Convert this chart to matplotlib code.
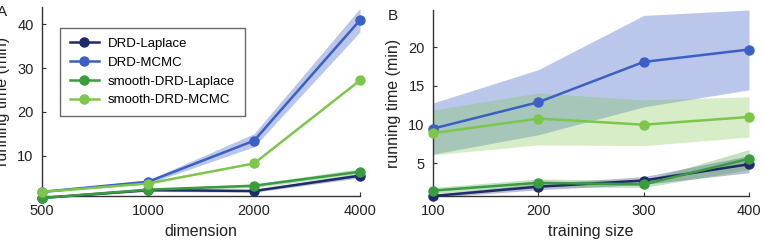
import matplotlib
matplotlib.use("Agg")
import matplotlib.pyplot as plt
import numpy as np

plt.rcParams['font.family'] = ['Liberation Sans', 'DejaVu Sans']

# Panel A data
dims = [500, 1000, 2000, 4000]
a_drd_lap = [0.3, 2.1, 1.9, 5.4]
a_drd_lap_lo = [0.2, 1.8, 1.6, 4.9]
a_drd_lap_hi = [0.4, 2.4, 2.2, 5.9]
a_drd_mcmc = [1.7, 4.0, 13.4, 41.0]
a_drd_mcmc_lo = [1.5, 3.6, 12.0, 38.3]
a_drd_mcmc_hi = [1.9, 4.4, 15.0, 43.7]
a_sm_lap = [0.3, 2.2, 3.1, 6.3]
a_sm_lap_lo = [0.2, 1.9, 2.7, 5.6]
a_sm_lap_hi = [0.4, 2.5, 3.5, 7.0]
a_sm_mcmc = [1.7, 3.6, 8.2, 27.2]

# Panel B data
sizes = [100, 200, 300, 400]
b_drd_lap = [0.8, 2.0, 2.8, 4.9]
b_drd_lap_lo = [0.6, 1.6, 2.3, 3.8]
b_drd_lap_hi = [1.0, 2.4, 3.3, 6.0]
b_drd_mcmc = [9.5, 12.9, 18.1, 19.7]
b_drd_mcmc_lo = [6.2, 8.7, 12.3, 14.5]
b_drd_mcmc_hi = [12.8, 17.1, 24.1, 24.8]
b_sm_lap = [1.5, 2.5, 2.3, 5.6]
b_sm_lap_lo = [1.1, 2.0, 1.9, 4.2]
b_sm_lap_hi = [1.9, 3.0, 2.8, 6.8]
b_sm_mcmc = [8.9, 10.8, 10.0, 11.0]
b_sm_mcmc_lo = [6.1, 7.4, 7.3, 8.4]
b_sm_mcmc_hi = [11.9, 14.1, 13.2, 13.6]

labels = ['DRD-Laplace', 'DRD-MCMC', 'smooth-DRD-Laplace', 'smooth-DRD-MCMC']
colors = ['#1d2a6b', '#3b5fc6', '#3a9c3f', '#7cc64b']

fig = plt.figure(figsize=(7.64, 2.44), dpi=100)
axA = fig.add_axes([0.0550, 0.1967, 0.4162, 0.7746])
axB = fig.add_axes([0.5668, 0.1967, 0.4136, 0.7623])

def style(ax):
    for s in ['top', 'right']:
        ax.spines[s].set_visible(False)
    for s in ['left', 'bottom']:
        ax.spines[s].set_color('#333333')
        ax.spines[s].set_linewidth(1.0)
    ax.tick_params(direction='in', length=3, color='#333333', labelsize=10.5,
                   labelcolor='#222222', pad=6)

def draw(ax, x, series, bands):
    for (lo, hi, c, a) in bands:
        ax.fill_between(x, lo, hi, color=c, alpha=a, linewidth=0, zorder=1)
    for y, c, lab in series:
        ax.plot(x, y, '-o', color=c, lw=1.8, ms=6.5, label=lab, clip_on=False, zorder=3)

draw(axA, dims,
     [(a_drd_lap, colors[0], labels[0]), (a_drd_mcmc, colors[1], labels[1]),
      (a_sm_lap, colors[2], labels[2]), (a_sm_mcmc, colors[3], labels[3])],
     [(a_drd_lap_lo, a_drd_lap_hi, colors[0], 0.3),
      (a_drd_mcmc_lo, a_drd_mcmc_hi, colors[1], 0.35),
      (a_sm_lap_lo, a_sm_lap_hi, colors[2], 0.3)])
axA.set_xscale('log')
axA.set_xlim(500, 4000)
axA.set_xticks(dims)
axA.set_xticklabels([str(d) for d in dims])
axA.minorticks_off()
axA.set_ylim(0.75, 44)
axA.set_yticks([10, 20, 30, 40])
axA.set_xlabel('dimension', fontsize=11.5, color='#222222', labelpad=4)
axA.set_ylabel('running time (min)', fontsize=11.5, color='#222222', labelpad=5)
style(axA)
leg = axA.legend(loc='upper left', bbox_to_anchor=(0.035, 0.925), fontsize=9.5,
                 frameon=True, fancybox=False, handlelength=2.2, borderpad=0.75,
                 labelspacing=0.5, handletextpad=0.7)
leg.get_frame().set_edgecolor('#444444')
leg.get_frame().set_linewidth(1.0)

draw(axB, sizes,
     [(b_drd_lap, colors[0], labels[0]), (b_drd_mcmc, colors[1], labels[1]),
      (b_sm_lap, colors[2], labels[2]), (b_sm_mcmc, colors[3], labels[3])],
     [(b_drd_lap_lo, b_drd_lap_hi, colors[0], 0.3),
      (b_drd_mcmc_lo, b_drd_mcmc_hi, colors[1], 0.35),
      (b_sm_lap_lo, b_sm_lap_hi, colors[2], 0.3),
      (b_sm_mcmc_lo, b_sm_mcmc_hi, colors[3], 0.3)])
axB.set_xlim(100, 400)
axB.set_xticks(sizes)
axB.set_ylim(0.8, 24.8)
axB.set_yticks([5, 10, 15, 20])
axB.set_xlabel('training size', fontsize=11.5, color='#222222', labelpad=4)
axB.set_ylabel('running time (min)', fontsize=11.5, color='#222222', labelpad=5)
style(axB)

fig.text(-0.004, 0.95, 'A', fontsize=11, color='#222222', ha='left', va='center')
fig.text(0.508, 0.935, 'B', fontsize=11, color='#222222', ha='left', va='center')

fig.savefig('out.png', dpi=100)
